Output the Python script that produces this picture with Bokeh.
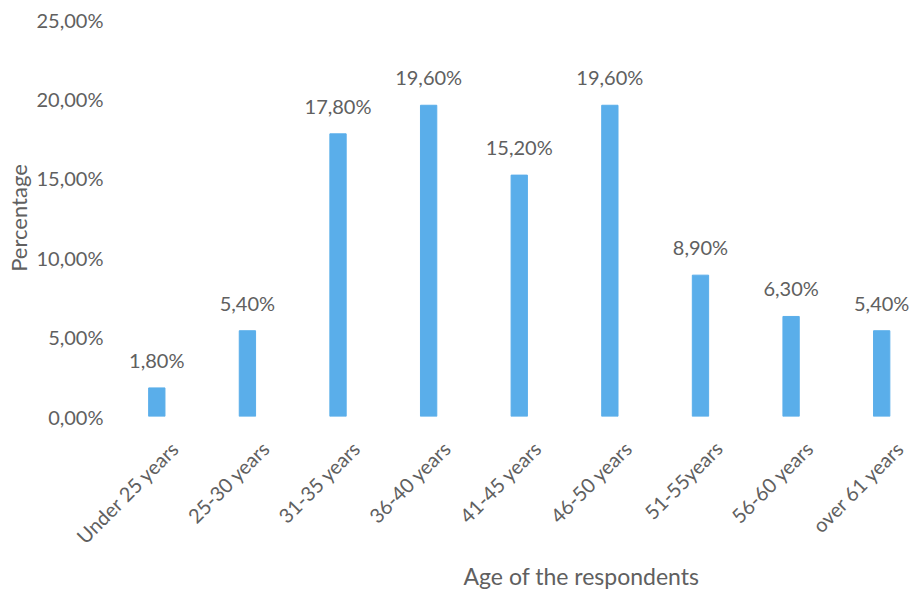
import math
from bokeh.plotting import figure
from bokeh.models import Range1d, FixedTicker, ColumnDataSource, LabelSet, Title
from bokeh.core.properties import value
from bokeh.embed import file_html
from bokeh.resources import INLINE

categories = ["Under 25 years", "25-30 years", "31-35 years", "36-40 years", "41-45 years",
              "46-50 years", "51-55years", "56-60 years", "over 61 years"]
values = [1.8, 5.4, 17.8, 19.6, 15.2, 19.6, 8.9, 6.3, 5.4]
y_ticks = [0, 5, 10, 15, 20, 25]
y_tick_labels = ["0,00%", "5,00%", "10,00%", "15,00%", "20,00%", "25,00%"]
value_labels = [("%.2f%%" % v).replace(".", ",") for v in values]

FONT = "Lato"
GREY = "#606060"

xs = list(range(len(categories)))
src = ColumnDataSource(dict(x=xs, top=values, lab=value_labels))

p = figure(width=912, height=589, output_backend="svg", toolbar_location=None,
           x_range=Range1d(-0.5, 8.34), y_range=Range1d(0, 25),
           min_border_left=111, min_border_right=0, min_border_top=19, min_border_bottom=172)
p.outline_line_color = None
p.xgrid.visible = False
p.ygrid.visible = False

p.vbar(x="x", top="top", width=0.18, source=src, color="#5aaeea")

labels = LabelSet(x="x", y="top", text="lab", source=src, text_align="center",
                  text_baseline="bottom", y_offset=16, text_font=value(FONT),
                  text_font_size="20px", text_color=GREY)
p.add_layout(labels)

p.yaxis.ticker = FixedTicker(ticks=y_ticks)
p.yaxis.major_label_overrides = {t: l for t, l in zip(y_ticks, y_tick_labels)}
p.yaxis.axis_line_color = None
p.yaxis.major_tick_line_color = None
p.yaxis.minor_tick_line_color = None
p.yaxis.major_label_standoff = 2
p.yaxis.major_label_text_font = FONT
p.yaxis.major_label_text_font_size = "20px"
p.yaxis.major_label_text_color = GREY
p.yaxis.axis_label = "Percentage"
p.yaxis.axis_label_text_font = FONT
p.yaxis.axis_label_text_font_size = "22px"
p.yaxis.axis_label_text_font_style = "normal"
p.yaxis.axis_label_text_color = GREY
p.yaxis.axis_label_standoff = 2

# tick labels sit a fifth of a category to the right of the bar, as in the reference
label_ticks = [i + 0.2 for i in xs]
p.xaxis.ticker = FixedTicker(ticks=label_ticks)
p.xaxis.major_label_overrides = {t: c for t, c in zip(label_ticks, categories)}
p.xaxis.major_label_orientation = math.pi / 4
p.xaxis.axis_line_color = None
p.xaxis.major_tick_line_color = None
p.xaxis.minor_tick_line_color = None
p.xaxis.major_label_standoff = 22
p.xaxis.major_label_text_font = FONT
p.xaxis.major_label_text_font_size = "20px"
p.xaxis.major_label_text_color = GREY

xtitle = Title(text="Age of the respondents", align="left", offset=352,
               text_font=FONT, text_font_size="23px", text_font_style="normal",
               text_color=GREY, standoff=0)
p.add_layout(xtitle, "below")

open("out.html", "w").write(file_html(p, INLINE))
